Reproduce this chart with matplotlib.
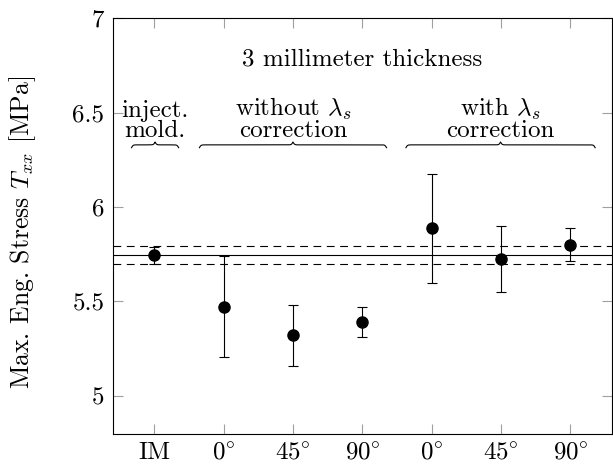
import numpy as np
import matplotlib
matplotlib.use('Agg')
from matplotlib import pyplot as plt

# 字体：尽量接近 LaTeX 的 Computer Modern
plt.rcParams['font.family'] = 'serif'
plt.rcParams['font.serif'] = ['cmr10']
plt.rcParams['mathtext.fontset'] = 'cm'
plt.rcParams['axes.formatter.use_mathtext'] = True
plt.rcParams['axes.unicode_minus'] = False

# 数据
tick_labels = ['IM', r'$0\!^\circ$', r'$45\!^\circ$', r'$90\!^\circ$',
               r'$0\!^\circ$', r'$45\!^\circ$', r'$90\!^\circ$']
stress_mean = [5.745, 5.47, 5.32, 5.39, 5.888, 5.724, 5.80]
err_low = [5.700, 5.205, 5.158, 5.31, 5.60, 5.551, 5.715]
err_high = [5.790, 5.74, 5.483, 5.47, 6.175, 5.897, 5.887]
im_mean = 5.748
im_band = [5.697, 5.793]

groups = ['inject.\nmold.', 'without $\\lambda_s$\ncorrection', 'with $\\lambda_s$\ncorrection']
group_span = [(-0.33, 0.35), (0.65, 3.35), (3.63, 6.36)]

FS = 18


def brace(ax, x0, x1, y, h):
    '''画一个尖朝上的花括号'''
    n = 401
    beta = 90.0
    x = np.linspace(x0, x1, n)
    xh = x[:n // 2 + 1]
    yh = 1 / (1 + np.exp(-beta * (xh - xh[0]))) + 1 / (1 + np.exp(-beta * (xh - xh[-1])))
    yy = np.concatenate((yh, yh[-2::-1]))
    yy = y + h * (yy - 0.5)
    ax.plot(x, yy, color='black', lw=0.8, clip_on=False)


fig = plt.figure(figsize=(6.13, 4.68), dpi=100)
ax = fig.add_axes([0.184, 0.0733, 0.814, 0.888])

x = np.arange(len(stress_mean))
mean = np.array(stress_mean)
yerr = [mean - np.array(err_low), np.array(err_high) - mean]

ax.axhline(im_mean, color='black', lw=0.8)
for v in im_band:
    ax.axhline(v, color='black', lw=0.8, ls=(0, (7, 5)))

ax.errorbar(x, mean, yerr=yerr, fmt='o', color='black', ms=8, elinewidth=0.8,
            capsize=3.3, capthick=0.8, zorder=3)

ax.set_xlim(-0.6, 6.6)
ax.set_ylim(4.8, 7.0)
ax.set_xticks(x)
ax.set_xticklabels(tick_labels, fontsize=FS)
ax.set_yticks([5, 5.5, 6, 6.5, 7])
ax.set_yticklabels(['5', '5.5', '6', '6.5', '7'], fontsize=FS)
ax.tick_params(direction='in', length=7, width=0.8, color='#a0a0a0',
               top=True, right=True, pad=6)
for s in ax.spines.values():
    s.set_linewidth(0.8)

ax.set_ylabel('Max. Eng. Stress $T_{xx}$ [MPa]', fontsize=18.5)
ax.yaxis.set_label_coords(-0.149, 0.485)

ax.text(3, 6.78, '3 millimeter thickness', fontsize=FS, ha='center', va='center')

for label, (a, b) in zip(groups, group_span):
    brace(ax, a, b, 6.314, 0.03)
    ax.text((a + b) / 2, 6.345, label, fontsize=FS, ha='center', va='bottom',
            linespacing=0.85)

plt.savefig('out.png', dpi=100)
